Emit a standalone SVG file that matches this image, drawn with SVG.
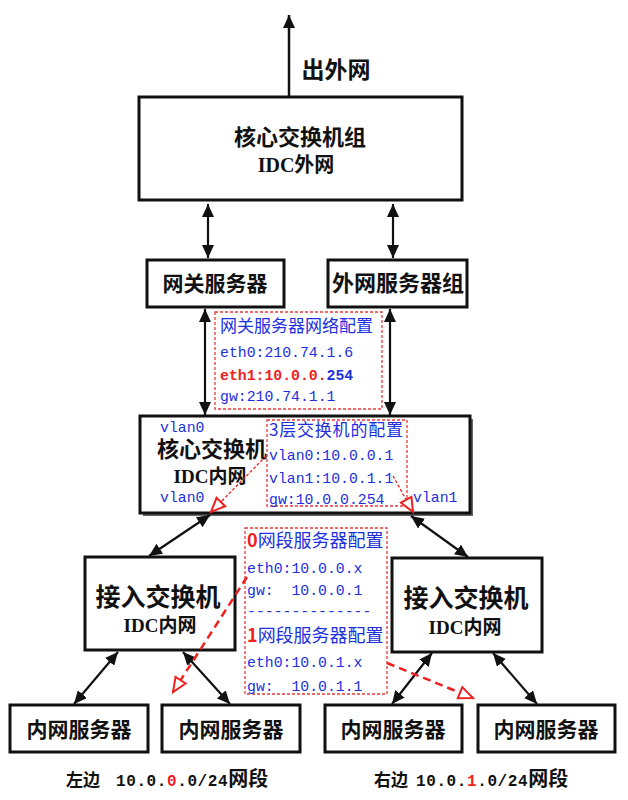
<svg xmlns="http://www.w3.org/2000/svg" width="628" height="800" viewBox="0 0 628 800">
<style>
.box{fill:#fff;stroke:#111;stroke-width:3}
.cfg{fill:none;stroke:#e83a3a;stroke-width:1.3;stroke-dasharray:3 2}
.lbl{font-family:"Liberation Serif","Noto Sans CJK SC",serif;font-weight:700;fill:#111;text-anchor:middle}
.cn{font-family:"Noto Sans CJK SC",sans-serif;fill:#2030e0}
.mono{font-family:"Liberation Mono","Noto Sans CJK SC",monospace;font-size:14.8px;fill:#2030e0}
.red{fill:#f02020;font-weight:700}
.bold{font-weight:700}
.arr{stroke:#111;stroke-width:2.2;fill:none;marker-start:url(#ah);marker-end:url(#ah)}
.rarr{stroke:#f02020;fill:none;marker-end:url(#oh)}
.foot{font-family:"Liberation Mono","Noto Sans CJK SC",monospace;font-weight:700;font-size:16px;fill:#111}
</style>
<defs>
<marker id="ah" markerUnits="userSpaceOnUse" markerWidth="14" markerHeight="12" refX="13" refY="6" orient="auto-start-reverse"><path d="M0,0 L13,6 L0,12 z" fill="#111"/></marker>
<marker id="ah1" markerUnits="userSpaceOnUse" markerWidth="14" markerHeight="12" refX="13" refY="6" orient="auto"><path d="M0,0 L13,6 L0,12 z" fill="#111"/></marker>
<marker id="oh" markerUnits="userSpaceOnUse" markerWidth="20" markerHeight="16" refX="16" refY="8" orient="auto"><path d="M2,2 L16,8 L2,14 z" fill="#fff" stroke="#f02020" stroke-width="2"/></marker>
</defs>
<rect width="628" height="800" fill="#fff"/>

<g id="out-label"><text class="lbl" x="336" y="78" font-size="23">出外网</text></g>

<g id="core-group">
<rect class="box" x="139" y="97" width="323" height="103"/>
<text class="lbl" x="300" y="145" font-size="22">核心交换机组</text>
<text class="lbl" x="296" y="172" font-size="20">IDC外网</text>
</g>

<g id="gateway">
<rect class="box" x="147" y="260" width="137" height="47"/>
<text class="lbl" x="215" y="291" font-size="21">网关服务器</text>
</g>

<g id="ext-servers">
<rect class="box" x="328" y="260" width="139" height="47"/>
<text class="lbl" x="398" y="291" font-size="22">外网服务器组</text>
</g>

<g id="gateway-config">
<rect class="cfg" x="215" y="312" width="167" height="97"/>
<text class="cn" x="220" y="332" font-size="17">网关服务器网络配置</text>
<text class="mono" x="220" y="357">eth0:210.74.1.6</text>
<text class="mono bold" x="220" y="380" font-size="15.5"><tspan class="red">eth1:10.0.0.</tspan>254</text>
<text class="mono" x="220" y="401">gw:210.74.1.1</text>
</g>

<g id="core-switch">
<rect x="143" y="419" width="330" height="97" fill="#666"/>
<rect class="box" x="140" y="416" width="330" height="97"/>
<text class="mono" x="160" y="432">vlan0</text>
<text class="lbl" x="212" y="457" font-size="22">核心交换机</text>
<text class="lbl" x="210" y="483" font-size="19">IDC内网</text>
<text class="mono" x="160" y="502">vlan0</text>
<text class="mono" x="413" y="502">vlan1</text>
</g>

<g id="l3-config">
<rect class="cfg" x="267" y="420" width="140" height="86"/>
<text class="cn" x="269" y="436" font-size="17" textLength="134" lengthAdjust="spacing">3层交换机的配置</text>
<text class="mono" x="269" y="460">vlan0:10.0.0.1</text>
<text class="mono" x="269" y="483">vlan1:10.0.1.1</text>
<text class="mono" x="269" y="504">gw:10.0.0.254</text>
</g>

<g id="server-config">
<rect class="cfg" x="245" y="528" width="142" height="166"/>
<text class="cn" x="247" y="547" font-size="18"><tspan class="red">0</tspan>网段服务器配置</text>
<text class="mono" x="247" y="573">eth0:10.0.0.x</text>
<text class="mono" x="247" y="595" xml:space="preserve">gw:  10.0.0.1</text>
<text class="mono" x="247" y="616">--------------</text>
<text class="cn" x="247" y="642" font-size="18"><tspan class="red">1</tspan>网段服务器配置</text>
<text class="mono" x="247" y="667">eth0:10.0.1.x</text>
<text class="mono" x="247" y="691" xml:space="preserve">gw:  10.0.1.1</text>
</g>

<g id="access-left">
<rect class="box" x="85" y="557" width="150" height="93"/>
<text class="lbl" x="158" y="606" font-size="25">接入交换机</text>
<text class="lbl" x="160" y="632" font-size="19">IDC内网</text>
</g>

<g id="access-right">
<rect class="box" x="392" y="558" width="150" height="94"/>
<text class="lbl" x="466" y="607" font-size="25">接入交换机</text>
<text class="lbl" x="465" y="634" font-size="19">IDC内网</text>
</g>

<g id="server1"><rect class="box" x="10" y="705" width="138" height="47"/><text class="lbl" x="79" y="737" font-size="21">内网服务器</text></g>
<g id="server2"><rect class="box" x="162" y="705" width="138" height="47"/><text class="lbl" x="231" y="737" font-size="21">内网服务器</text></g>
<g id="server3"><rect class="box" x="325" y="705" width="137" height="47"/><text class="lbl" x="393" y="737" font-size="21">内网服务器</text></g>
<g id="server4"><rect class="box" x="478" y="705" width="137" height="47"/><text class="lbl" x="546" y="737" font-size="21">内网服务器</text></g>

<g id="footer">
<text class="foot" x="66" y="786"><tspan font-size="17">左边</tspan><tspan x="116" letter-spacing="0.6">10.0.</tspan><tspan fill="#f02020" letter-spacing="0.6">0</tspan><tspan letter-spacing="0.6">.0/24</tspan><tspan font-size="20">网段</tspan></text>
<text class="foot" x="374" y="786"><tspan font-size="17">右边</tspan><tspan x="416" letter-spacing="0.6">10.0.</tspan><tspan fill="#f02020" letter-spacing="0.6">1</tspan><tspan letter-spacing="0.6">.0/24</tspan><tspan font-size="20">网段</tspan></text>
</g>

<g id="connectors">
<line x1="289" y1="96" x2="289" y2="15" stroke="#111" stroke-width="2.5" marker-end="url(#ah1)"/>
<line class="arr" x1="208" y1="204" x2="208" y2="258"/>
<line class="arr" x1="393" y1="204" x2="393" y2="258"/>
<line class="arr" x1="205" y1="309" x2="205" y2="415"/>
<line class="arr" x1="390" y1="309" x2="390" y2="415"/>
<line class="arr" x1="210" y1="515" x2="149" y2="556"/>
<line class="arr" x1="411" y1="516" x2="468" y2="557"/>
<line class="arr" x1="118" y1="652" x2="74" y2="704"/>
<line class="arr" x1="183" y1="652" x2="230" y2="704"/>
<line class="arr" x1="432" y1="653" x2="392" y2="704"/>
<line class="arr" x1="493" y1="653" x2="537" y2="704"/>
<line class="rarr" x1="266" y1="456" x2="211" y2="512" stroke-width="1.3" stroke-dasharray="3 2"/>
<line class="rarr" x1="393" y1="476" x2="413" y2="512" stroke-width="1.3" stroke-dasharray="3 2"/>
<line class="rarr" x1="247" y1="577" x2="173" y2="692" stroke-width="2.5" stroke-dasharray="8 5"/>
<line class="rarr" x1="387" y1="663" x2="473" y2="698" stroke-width="2.5" stroke-dasharray="8 5"/>
</g>
</svg>
